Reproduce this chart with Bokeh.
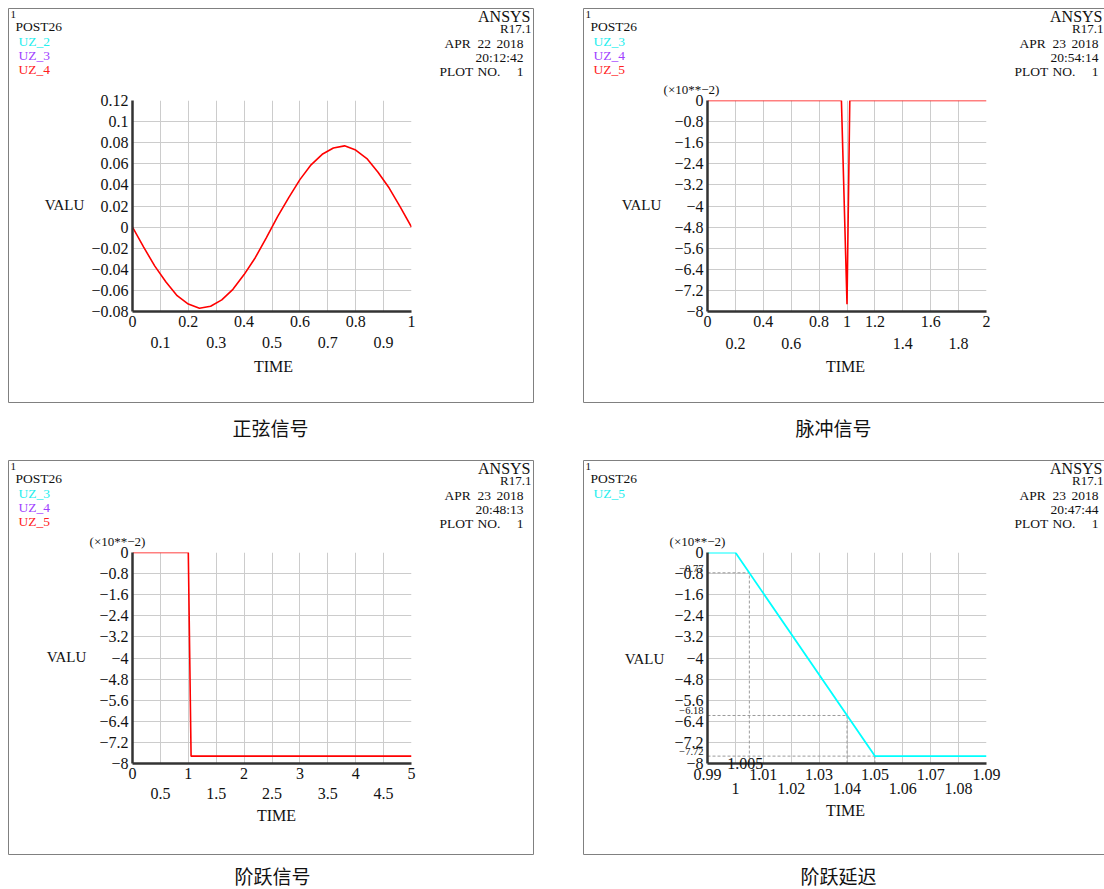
from bokeh.plotting import figure
from bokeh.models import Range1d, FixedTicker, LinearAxis, GridBox
from bokeh.layouts import row, column
from bokeh.core.properties import value
from bokeh.embed import file_html
from bokeh.resources import INLINE

SERIF = "Liberation Serif"
CJK = "Noto Sans CJK SC"

# ---------------- data ----------------
sine_time = [0.0, 0.04, 0.08, 0.12, 0.16, 0.20, 0.24, 0.28, 0.32, 0.36, 0.40, 0.44, 0.48,
             0.52, 0.56, 0.60, 0.64, 0.68, 0.72, 0.76, 0.80, 0.84, 0.88, 0.92, 0.96, 1.0]
sine_valu = [0.0, -0.019, -0.037, -0.052, -0.065, -0.073, -0.077, -0.075, -0.069, -0.059, -0.045,
             -0.029, -0.010, 0.010, 0.028, 0.045, 0.059, 0.069, 0.075, 0.077, 0.073, 0.065,
             0.052, 0.037, 0.019, 0.0]

pulse_time = [0.0, 0.96, 1.0, 1.02, 2.0]
pulse_valu = [0.0, 0.0, -7.72, 0.0, 0.0]

step_time = [0.0, 1.0, 1.05, 5.0]
step_valu = [0.0, 0.0, -7.72, -7.72]

delay_time = [0.99, 1.0, 1.05, 1.09]
delay_valu = [0.0, 0.0, -7.72, -7.72]
delay_mark_time = [1.005, 1.04, 1.05]
delay_mark_valu = [-0.77, -6.18, -7.72]
delay_mark_text = ["\u22120.77", "\u22126.18", "\u22127.72"]
delay_time_mark_text = "1.005"

captions = ["正弦信号", "脉冲信号", "阶跃信号", "阶跃延迟"]
legend_names = [["UZ_2", "UZ_3", "UZ_4"], ["UZ_3", "UZ_4", "UZ_5"],
                ["UZ_3", "UZ_4", "UZ_5"], ["UZ_5"]]
legend_colors = [["#22eeee", "#a040ff", "#ff2020"], ["#22eeee", "#a040ff", "#ff2020"],
                 ["#22eeee", "#a040ff", "#ff2020"], ["#22eeee"]]
plot_day = ["22", "23", "23", "23"]
plot_clock = ["20:12:42", "20:54:14", "20:48:13", "20:47:44"]

# ticks
sine_y_ticks = [-0.08, -0.06, -0.04, -0.02, 0.0, 0.02, 0.04, 0.06, 0.08, 0.1, 0.12]
sine_y_labels = ["\u22120.08", "\u22120.06", "\u22120.04", "\u22120.02", "0", "0.02", "0.04",
                 "0.06", "0.08", "0.1", "0.12"]
sine_x_row1 = [0.0, 0.2, 0.4, 0.6, 0.8, 1.0]
sine_x_row1_labels = ["0", "0.2", "0.4", "0.6", "0.8", "1"]
sine_x_row2 = [0.1, 0.3, 0.5, 0.7, 0.9]
sine_x_row2_labels = ["0.1", "0.3", "0.5", "0.7", "0.9"]
sine_x_grid = [0.0, 0.1, 0.2, 0.3, 0.4, 0.5, 0.6, 0.7, 0.8, 0.9, 1.0]

e2_y_ticks = [-8.0, -7.2, -6.4, -5.6, -4.8, -4.0, -3.2, -2.4, -1.6, -0.8, 0.0]
e2_y_labels = ["\u22128", "\u22127.2", "\u22126.4", "\u22125.6", "\u22124.8", "\u22124",
               "\u22123.2", "\u22122.4", "\u22121.6", "\u22120.8", "0"]

pulse_x_row1 = [0.0, 0.4, 0.8, 1.0, 1.2, 1.6, 2.0]
pulse_x_row1_labels = ["0", "0.4", "0.8", "1", "1.2", "1.6", "2"]
pulse_x_row2 = [0.2, 0.6, 1.4, 1.8]
pulse_x_row2_labels = ["0.2", "0.6", "1.4", "1.8"]
pulse_x_grid = [0.0, 0.2, 0.4, 0.6, 0.8, 1.0, 1.2, 1.4, 1.6, 1.8, 2.0]

step_x_row1 = [0.0, 1.0, 2.0, 3.0, 4.0, 5.0]
step_x_row1_labels = ["0", "1", "2", "3", "4", "5"]
step_x_row2 = [0.5, 1.5, 2.5, 3.5, 4.5]
step_x_row2_labels = ["0.5", "1.5", "2.5", "3.5", "4.5"]
step_x_grid = [0.0, 0.5, 1.0, 1.5, 2.0, 2.5, 3.0, 3.5, 4.0, 4.5, 5.0]

delay_x_row1 = [0.99, 1.01, 1.03, 1.05, 1.07, 1.09]
delay_x_row1_labels = ["0.99", "1.01", "1.03", "1.05", "1.07", "1.09"]
delay_x_row2 = [1.0, 1.02, 1.04, 1.06, 1.08]
delay_x_row2_labels = ["1", "1.02", "1.04", "1.06", "1.08"]
delay_x_grid = [0.99, 1.0, 1.01, 1.02, 1.03, 1.04, 1.05, 1.06, 1.07, 1.08, 1.09]

# ---------------- layout constants ----------------
PAGE_W, PAGE_H = 1104, 889
FL, FW, FT, FH = 132, 279, 100, 211
FB = FT + FH
PANEL_ORIGIN = [(0, 0), (575, 0), (0, 452), (575, 452)]


def panel(W, H, xr, yr, xgrid, ygrid, xt1, xl1, xt2, xl2, yt, yl, sd1, sd2):
    p = figure(width=W, height=H, x_range=Range1d(*xr), y_range=Range1d(*yr),
               output_backend="svg", toolbar_location=None,
               min_border_left=FL, min_border_right=W - FL - FW,
               min_border_top=FT, min_border_bottom=H - FB)
    p.outline_line_color = None
    p.background_fill_color = "white"
    p.border_fill_color = "white"

    xa = p.xaxis[0]
    ya = p.yaxis[0]
    xa.ticker = FixedTicker(ticks=xt1)
    xa.major_label_overrides = dict(zip(xt1, xl1))
    ya.ticker = FixedTicker(ticks=yt)
    ya.major_label_overrides = dict(zip(yt, yl))
    xa2 = LinearAxis(ticker=FixedTicker(ticks=xt2), major_label_overrides=dict(zip(xt2, xl2)))
    p.add_layout(xa2, "below")
    for a in (xa, ya, xa2):
        a.axis_line_color = "#333333"
        a.axis_line_width = 2.5
        a.major_tick_line_color = None
        a.minor_tick_line_color = None
        a.major_tick_out = 0
        a.major_tick_in = 0
        a.major_label_text_font = SERIF
        a.major_label_text_font_size = "16px"
        a.major_label_text_color = "#111111"
    xa2.axis_line_color = None
    xa.major_label_standoff = sd1
    xa2.major_label_standoff = sd2
    ya.major_label_standoff = 4

    p.xgrid[0].ticker = FixedTicker(ticks=xgrid)
    p.ygrid[0].ticker = FixedTicker(ticks=ygrid)
    for g in (p.xgrid[0], p.ygrid[0]):
        g.grid_line_color = "#cccccc"
        g.grid_line_width = 1
    return p


p1 = panel(575, 452, (0, 1), (-0.08, 0.12), sine_x_grid, sine_y_ticks,
           sine_x_row1, sine_x_row1_labels, sine_x_row2, sine_x_row2_labels,
           sine_y_ticks, sine_y_labels, 4, 7)
p1.line(sine_time, sine_valu, line_color="#ff0000", line_width=1.6)

p2 = panel(529, 452, (0, 2), (-8, 0), pulse_x_grid, e2_y_ticks,
           pulse_x_row1, pulse_x_row1_labels, pulse_x_row2, pulse_x_row2_labels,
           e2_y_ticks, e2_y_labels, 4, 8)
p2.line(pulse_time, pulse_valu, line_color="#ff0000", line_width=1.6)

p3 = panel(575, 437, (0, 5), (-8, 0), step_x_grid, e2_y_ticks,
           step_x_row1, step_x_row1_labels, step_x_row2, step_x_row2_labels,
           e2_y_ticks, e2_y_labels, 4, 6)
p3.line(step_time, step_valu, line_color="#ff0000", line_width=1.6)

p4 = panel(529, 437, (0.99, 1.09), (-8, 0), delay_x_grid, e2_y_ticks,
           delay_x_row1, delay_x_row1_labels, delay_x_row2, delay_x_row2_labels,
           e2_y_ticks, e2_y_labels, 5, 0)
p4.segment(x0=[0.99] * len(delay_mark_time), y0=delay_mark_valu, x1=delay_mark_time, y1=delay_mark_valu,
           line_color="#9a9a9a", line_dash="3 2", line_width=1)
p4.segment(x0=delay_mark_time, y0=[-8.0] * len(delay_mark_time), x1=delay_mark_time, y1=delay_mark_valu,
           line_color="#9a9a9a", line_dash="3 2", line_width=1)
p4.line(delay_time, delay_valu, line_color="#00ffff", line_width=1.8)

# ---------------- transparent overlay for the ANSYS window texts ----------------
ov = figure(width=PAGE_W, height=PAGE_H, x_range=Range1d(0, PAGE_W), y_range=Range1d(PAGE_H, 0),
            output_backend="svg", toolbar_location=None, min_border=0,
            x_axis_location=None, y_axis_location=None)
ov.grid.visible = False
ov.outline_line_color = None
ov.background_fill_color = None
ov.border_fill_color = None


def T(x, y, s, size, color="#111111", align="left", baseline="middle", font=SERIF):
    ov.text(x=[x], y=[y], text=[s], text_font=value(font), text_font_size=value(f"{size}px"),
            text_color=color, text_align=align, text_baseline=baseline)


exp_x = [117, 116, 117, 122]
valu_xy = [(64, 204), (66, 204), (66, 204), (69, 206)]
time_xy = [(273, 366), (270, 366), (276, 363), (270, 358)]
caption_x = [270, 258, 272, 263]
caption_y = [427, 427, 423, 423]
ansys_right = [530, 527, 530, 527]

for i, (ox, oy) in enumerate(PANEL_ORIGIN):
    ov.quad(left=[ox + 8], right=[ox + 533], top=[oy + 8], bottom=[oy + 402],
            fill_color=None, line_color="#808080", line_width=1)
    T(ox + 10, oy + 14, "1", 11)
    T(ox + 15, oy + 26, "POST26", 13.5)
    for k, (nm, col) in enumerate(zip(legend_names[i], legend_colors[i])):
        T(ox + 18, oy + 41 + 14 * k, nm, 13.5, color=col)
    T(ox + ansys_right[i], oy + 16, "ANSYS", 16, align="right")
    T(ox + ansys_right[i] + 1, oy + 28, "R17.1", 13, align="right")
    T(ox + 444, oy + 43, "APR", 13.5)
    T(ox + 477, oy + 43, plot_day[i], 13.5)
    T(ox + 523, oy + 43, "2018", 13.5, align="right")
    T(ox + 523, oy + 57, plot_clock[i], 13.5, align="right")
    T(ox + 439, oy + 71, "PLOT", 13.5)
    T(ox + 477, oy + 71, "NO.", 13.5)
    T(ox + 523, oy + 71, "1", 13.5, align="right")
    if i > 0:
        T(ox + exp_x[i], oy + 89, "(\u00d710**\u22122)", 13, align="center")
    T(ox + valu_xy[i][0], oy + valu_xy[i][1], "VALU", 15, align="center")
    T(ox + time_xy[i][0], oy + time_xy[i][1], "TIME", 16, align="center")
    T(ox + caption_x[i], oy + caption_y[i], captions[i], 19, align="center", font=CJK)

# marked values of the delayed step (placed next to the panel-4 frame)
ox4, oy4 = PANEL_ORIGIN[3]
for v, s in zip(delay_mark_valu, delay_mark_text):
    ypix = oy4 + FT + (0 - v) / 8.0 * FH
    T(ox4 + FL - 4, ypix - 1, s, 10.5, align="right", baseline="bottom")
xpix = ox4 + FL + (delay_mark_time[0] - 0.99) / 0.1 * FW
T(xpix - 4, oy4 + FB, delay_time_mark_text, 16, align="center")

panels = column(row(p1, p2), row(p3, p4))
layout = GridBox(children=[(panels, 0, 0), (column(ov), 0, 0)])
open("out.html", "w").write(file_html(layout, INLINE))
